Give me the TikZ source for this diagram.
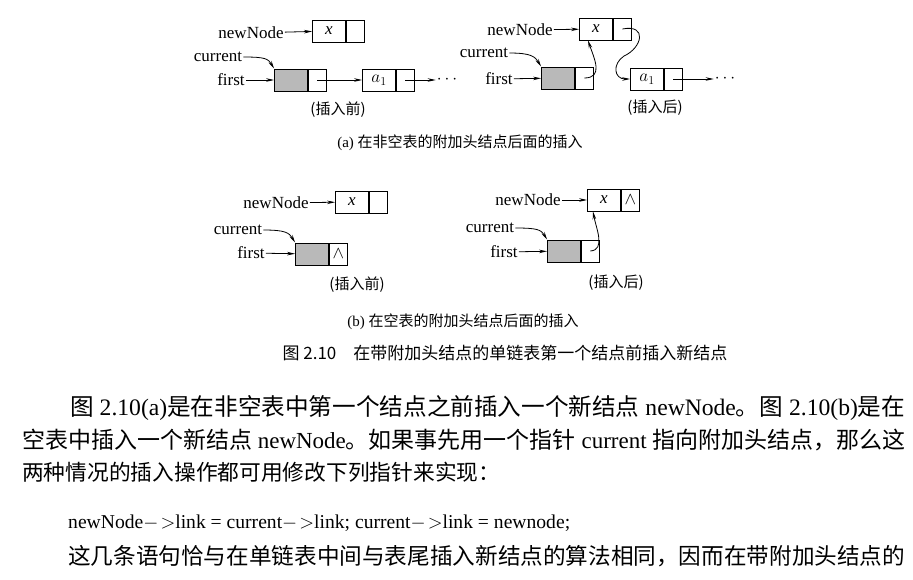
\documentclass[tikz,border=0pt]{standalone}
\usepackage{fontspec}
\setmainfont{Liberation Serif}
\newfontfamily\cjk{Noto Sans CJK SC}
\usetikzlibrary{arrows.meta,positioning}
\newcommand\zh[1]{{\cjk #1}}
\tikzset{% common styles of the list pictures
  cell/.style     = {draw, thick, inner sep=0pt, minimum height=22pt,
                     font=\fontsize{17}{17}\selectfont\itshape},
  datacell/.style = {cell, minimum width=33pt},
  ptrcell/.style  = {cell, minimum width=18pt, font=\fontsize{18}{18}\selectfont},
  headcell/.style = {datacell, fill=gray!55},
  lbl/.style      = {inner sep=1pt, font=\fontsize{17}{17}\selectfont},
  captext/.style  = {inner sep=0pt, font=\cjk\fontsize{15}{15}\selectfont},
  body/.style     = {inner sep=0pt, anchor=west, font=\fontsize{21}{24}\selectfont},
  link/.style     = {thick, -{Stealth[length=8pt,width=3.5pt]}},
}
\begin{document}
\begin{tikzpicture}[x=1pt, y=-1pt]
  \useasboundingbox (0,0) rectangle (913,579);
  % (a) before
  \node [datacell] (nx1) at (329,31) {x};
  \node [ptrcell, right=0pt of nx1] (np1) {};
  \node [headcell] (hd1) at (291,80) {};
  \node [ptrcell, right=0pt of hd1] (hp1) {};
  \node [datacell] (an1) at (379,80) {$a_1$};
  \node [ptrcell, right=0pt of an1] (ap1) {};
  \node [lbl] (dots1) at (447,80) {$\cdots$};
  \node [lbl] (new1) at (251,33) {newNode};
  \node [lbl] (cur1) at (218,57) {current};
  \node [lbl] (fst1) at (231,80) {first};
  \draw [link] (new1) -- (nx1);
  \draw [link] (fst1) -- (hd1);
  \draw [link] (cur1.east) .. controls +(22,0) and +(-6,-10) .. (hd1.north west);
  \draw [link] (hp1.center) -- (an1);
  \draw [link] (ap1.center) -- (dots1);
  \node [captext] (bef1) at (338,110) {(插入前)};
  % (a) after
  \node [datacell] (nx2) at (596,29) {x};
  \node [ptrcell, right=0pt of nx2] (np2) {};
  \node [headcell] (hd2) at (558,78) {};
  \node [ptrcell, right=0pt of hd2] (hp2) {};
  \node [datacell] (an2) at (647,79) {$a_1$};
  \node [ptrcell, right=0pt of an2] (ap2) {};
  \node [lbl] (dots2) at (725,79) {$\cdots$};
  \node [lbl] (new2) at (520,30) {newNode};
  \node [lbl] (cur2) at (484,53) {current};
  \node [lbl] (fst2) at (499,79) {first};
  \draw [link] (new2) -- (nx2);
  \draw [link] (fst2) -- (hd2);
  \draw [link] (cur2.east) .. controls +(22,0) and +(-6,-10) .. (hd2.north west);
  \draw [link] (hp2.center) .. controls (604,78) and (594,58) .. ([xshift=-8pt]nx2.south);
  \draw [link] (np2.center) .. controls (648,24) and (642,48) .. (624,56)
                            .. controls (612,64) and (614,79) .. (an2.west);
  \draw [link] (ap2.center) -- (dots2);
  \node [captext] (aft1) at (655,108) {(插入后)};
  \node [captext] (capa) at (460,143) {\rmfamily(a) \cjk 在非空表的附加头结点后面的插入};
  % (b) before
  \node [datacell] (nx3) at (352,202) {x};
  \node [ptrcell, right=0pt of nx3] (np3) {};
  \node [headcell] (hd3) at (312,254) {};
  \node [ptrcell, right=0pt of hd3] (hp3) {$\wedge$};
  \node [lbl] (new3) at (276,203) {newNode};
  \node [lbl] (cur3) at (238,230) {current};
  \node [lbl] (fst3) at (251,253) {first};
  \draw [link] (new3) -- (nx3);
  \draw [link] (fst3) -- (hd3);
  \draw [link] (cur3.east) .. controls +(22,0) and +(-6,-10) .. (hd3.north west);
  \node [captext] (bef2) at (357,285) {(插入前)};
  % (b) after
  \node [datacell] (nx4) at (604,200) {x};
  \node [ptrcell, right=0pt of nx4] (np4) {$\wedge$};
  \node [headcell] (hd4) at (564,251) {};
  \node [ptrcell, right=0pt of hd4] (hp4) {};
  \node [lbl] (new4) at (528,200) {newNode};
  \node [lbl] (cur4) at (490,228) {current};
  \node [lbl] (fst4) at (504,252) {first};
  \draw [link] (new4) -- (nx4);
  \draw [link] (fst4) -- (hd4);
  \draw [link] (cur4.east) .. controls +(22,0) and +(-6,-10) .. (hd4.north west);
  \draw [link] (hp4.center) .. controls (606,250) and (596,228) .. ([xshift=-11pt]nx4.south);
  \node [captext] (aft2) at (616,283) {(插入后)};
  \node [captext] (capb) at (463,322) {\rmfamily(b) \cjk 在空表的附加头结点后面的插入};
  \node [captext, font=\cjk\fontsize{17}{17}\selectfont] (fig) at (505,353)
        {图 2.10\quad 在带附加头结点的单链表第一个结点前插入新结点};
  % body text
  \node [body] (ln1) at (70,408) {\resizebox{835pt}{!}{\zh{图} 2.10(a)\zh{是在非空表中第一个结点之前插入一个新结点} newNode\zh{。图} 2.10(b)\zh{是在}}};
  \node [body] (ln2) at (22,440) {\resizebox{883pt}{!}{\zh{空表中插入一个新结点} newNode\zh{。如果事先用一个指针} current \zh{指向附加头结点，那么这}}};
  \node [body] (ln3) at (22,472) {\resizebox{478pt}{!}{\zh{两种情况的插入操作都可用修改下列指针来实现：}}};
  \node [body] (ln4) at (68,523) {\resizebox{502pt}{!}{newNode$-\!>$link = current$-\!>$link; current$-\!>$link = newnode;}};
  \node [body] (ln5) at (68,556) {\resizebox{837pt}{!}{\zh{这几条语句恰与在单链表中间与表尾插入新结点的算法相同，因而在带附加头结点的}}};
\end{tikzpicture}
\end{document}
